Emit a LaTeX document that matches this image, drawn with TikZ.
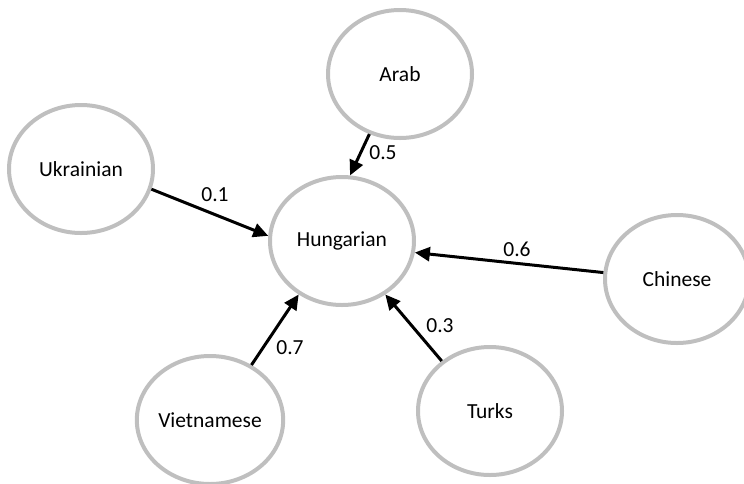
\documentclass[tikz,border=0pt]{standalone}
\usepackage{fontspec}
\setmainfont{Carlito}
\usetikzlibrary{arrows.meta,shapes.geometric}
\definecolor{ringgray}{HTML}{BFBFBF}
\tikzset{
  ethnic/.style={ellipse, draw=ringgray, line width=4pt, minimum width=144pt, minimum height=128pt, inner sep=0pt, font=\fontsize{21.5}{25}\selectfont, text=black},
  infl/.style={line width=3pt, draw=black, -{Triangle[length=15pt,width=14pt]}},
  wlabel/.style={font=\fontsize{21.5}{25}\selectfont, inner sep=0pt}
}
\begin{document}
\begin{tikzpicture}[x=1pt,y=-1pt]
\useasboundingbox (0,0) rectangle (744,483);
\node[ethnic] (hun) at (342,241) {Hungarian};
\node[ethnic] (arab) at (400,74) {Arab};
\node[ethnic] (ukr) at (81,169) {Ukrainian};
\node[ethnic] (chi) at (677,279) {Chinese};
\node[ethnic] (vie) at (210,420) {Vietnamese};
\node[ethnic] (tur) at (490,411) {Turks};
\draw[infl] (arab.-117) -- (hun.83);
\draw[infl] (ukr.-16) -- (hun.176);
\draw[infl] (chi.175) -- (hun.-9);
\draw[infl] (vie.53) -- (hun.-129);
\draw[infl] (tur.134) -- (hun.-51);
\node[wlabel] (l5) at (383,153) {0.5};
\node[wlabel] (l1) at (215,195) {0.1};
\node[wlabel] (l6) at (517,249) {0.6};
\node[wlabel] (l7) at (290,348) {0.7};
\node[wlabel] (l3) at (440,326) {0.3};
\end{tikzpicture}
\end{document}
